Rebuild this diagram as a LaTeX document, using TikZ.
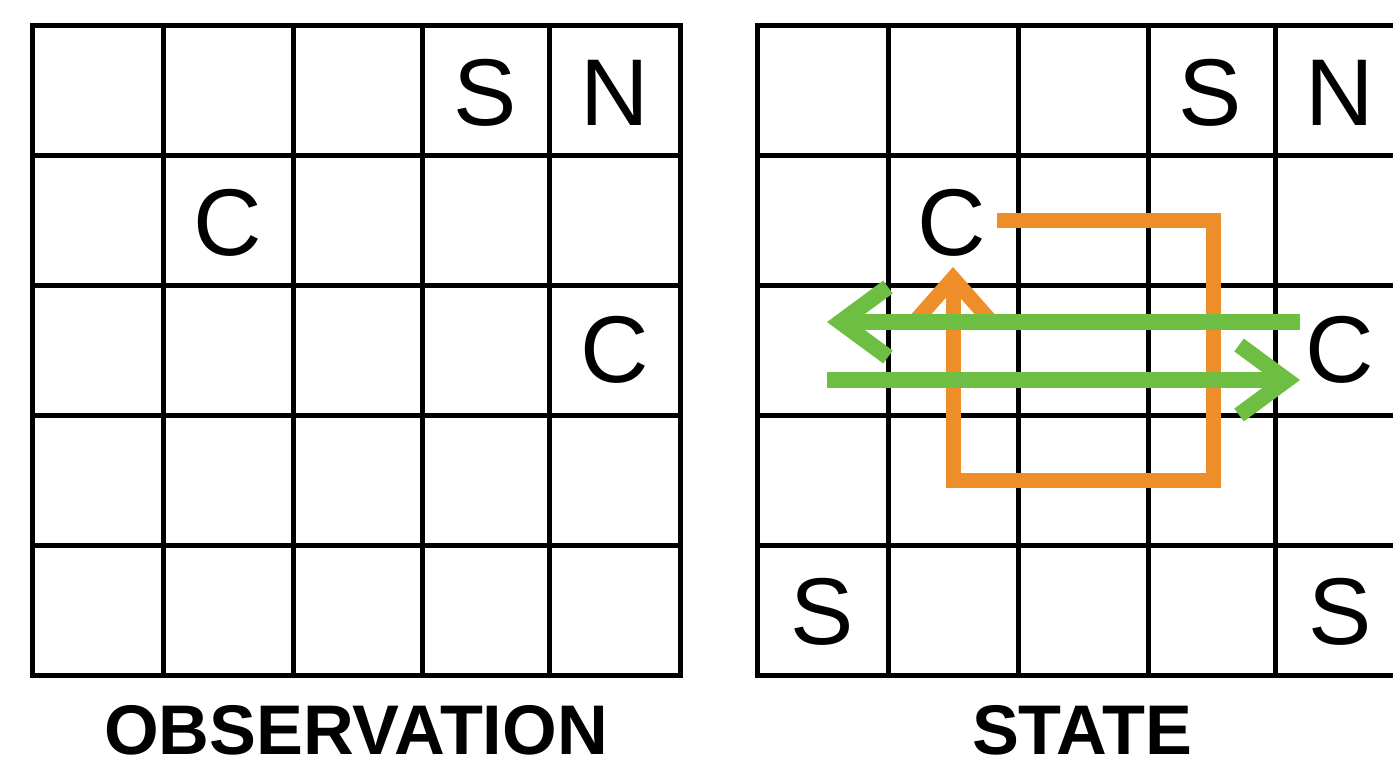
\documentclass[tikz,border=0pt]{standalone}
\usepackage{fontspec}
\setmainfont{Liberation Sans}
\usetikzlibrary{arrows.meta}
\definecolor{looporange}{RGB}{238,142,42}
\definecolor{passgreen}{RGB}{111,190,68}

\begin{document}
\begin{tikzpicture}[x=0.02cm,y=-0.02cm,
  gridline/.style={line width=0.1cm, line cap=rect},
  letter/.style={font=\fontsize{54}{60}\selectfont, inner sep=0pt},
  caption/.style={font=\fontsize{40}{46}\selectfont\bfseries, inner sep=0pt},
  looppath/.style={draw=looporange, line width=0.3cm, line join=miter,
    -{Straight Barb[length=0.85cm, width=1.5cm, line cap=butt, line join=miter]}},
  passpath/.style={draw=passgreen, line width=0.32cm,
    -{Straight Barb[length=0.95cm, width=1.4cm, line cap=butt, line join=miter]}}]
\useasboundingbox (0,0) rectangle (1393,769);
\clip (0,0) rectangle (1393,769);
% observation grid
\foreach \x in {32,163,293,422,549,680} \draw[gridline] (\x,25) -- (\x,675);
\foreach \y in {25,155,285,415,545,675} \draw[gridline] (32,\y) -- (680,\y);
% state grid
\foreach \x in {757,888,1018,1148,1275} \draw[gridline] (\x,25) -- (\x,675);
\foreach \y in {25,155,285,415,545,675} \draw[gridline] (757,\y) -- (1420,\y);
% observation letters
\node[letter] (obsS) at (485,93) {S};
\node[letter] (obsN) at (615,93) {N};
\node[letter] (obsC1) at (228,223) {C};
\node[letter] (obsC2) at (615,350) {C};
% state letters
\node[letter] (stS1) at (1210,93) {S};
\node[letter] (stN) at (1340,93) {N};
\node[letter] (stC1) at (952,223) {C};
\node[letter] (stC2) at (1340,350) {C};
\node[letter] (stS2) at (822,612) {S};
\node[letter] (stS3) at (1340,612) {S};
% captions
\node[caption] (obsTitle) at (356,730) {OBSERVATION};
\node[caption] (stTitle) at (1082,730) {STATE};
% loop round the block
\coordinate (oStart) at (997,220);
\coordinate (oA) at (1213,220);
\coordinate (oB) at (1213,480);
\coordinate (oC) at (953,480);
\coordinate (oEnd) at (953,267);
\draw[looppath] (oStart) -- (oA) -- (oB) -- (oC) -- (oEnd);
% back and forth
\coordinate (gR1) at (1300,322); \coordinate (gL1) at (827,322);
\coordinate (gL2) at (827,380); \coordinate (gR2) at (1300,380);
\draw[passpath] (gR1) -- (gL1);
\draw[passpath] (gL2) -- (gR2);
\end{tikzpicture}
\end{document}
